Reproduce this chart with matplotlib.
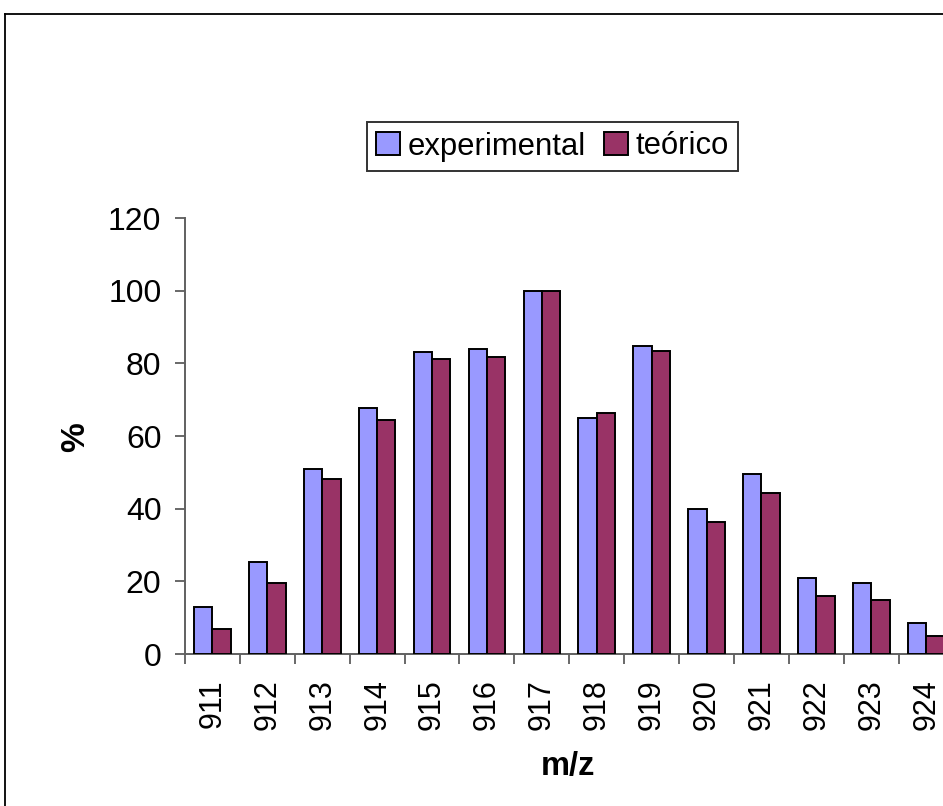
import matplotlib
matplotlib.use("Agg")
import matplotlib.pyplot as plt
import numpy as np
from matplotlib.lines import Line2D
from matplotlib.patches import Patch

plt.rcParams['font.family'] = ['Liberation Sans', 'DejaVu Sans']

categories = ['911', '912', '913', '914', '915', '916', '917',
              '918', '919', '920', '921', '922', '923', '924']
experimental = [13.0, 25.4, 51.0, 67.6, 83.0, 83.9, 100.0,
                65.0, 84.8, 39.9, 49.6, 20.9, 19.6, 8.6]
teorico = [6.8, 19.6, 48.3, 64.5, 81.2, 81.7, 100.0,
           66.2, 83.5, 36.3, 44.3, 16.0, 14.8, 5.0]
series_names = ['experimental', 'teórico']
colors = ['#9999FF', '#993366']
yticks = [0, 20, 40, 60, 80, 100, 120]

W, H = 943, 806
fig = plt.figure(figsize=(W / 100, H / 100), dpi=100)
ax = fig.add_axes([185 / W, 1 - 654 / H, (953.6 - 185) / W, (654 - 218) / H])

x = np.arange(len(categories))
bw = 1 / 3
ax.bar(x - bw / 2, experimental, bw, color=colors[0], edgecolor='black', linewidth=1.4, zorder=3)
ax.bar(x + bw / 2, teorico, bw, color=colors[1], edgecolor='black', linewidth=1.4, zorder=3)

ax.set_xlim(-0.5, len(categories) - 0.5)
ax.set_ylim(0, 120)
ax.set_yticks(yticks)
ax.set_yticklabels([str(v) for v in yticks], fontsize=23)

ax.set_xticks(x)
ax.set_xticklabels(categories, rotation=90, fontsize=22)
ax.tick_params(axis='x', which='major', length=0, pad=18)
ax.set_xticks(np.arange(-0.5, len(categories), 1), minor=True)
ax.tick_params(axis='x', which='minor', length=7, width=1.1, color='#404040', direction='out')
ax.tick_params(axis='y', length=7, width=1.1, color='#404040', direction='out', pad=10)

for s in ['top', 'right']:
    ax.spines[s].set_visible(False)
for s in ['left', 'bottom']:
    ax.spines[s].set_color('#606060')
    ax.spines[s].set_linewidth(1.4)

fig.text(76 / W, 1 - 437 / H, '%', rotation=90, fontsize=24, fontweight='bold',
         ha='center', va='center')
fig.text(568 / W, 1 - 766 / H, 'm/z', fontsize=23.5, fontweight='bold',
         ha='center', va='center')

handles = [Patch(facecolor=colors[0], edgecolor='black', linewidth=1.4),
           Patch(facecolor=colors[1], edgecolor='black', linewidth=1.4)]
leg = fig.legend(handles, series_names, loc='center', bbox_to_anchor=(552.5 / W, 1 - 146.5 / H),
                 ncol=2, fontsize=22.3, frameon=True, fancybox=False, shadow=False,
                 handlelength=0.75, handleheight=0.75, handletextpad=0.25,
                 columnspacing=0.6, borderpad=0.3, borderaxespad=0)
leg.get_frame().set_edgecolor('black')
leg.get_frame().set_linewidth(1.4)

# figure border (chart area), cut off at right and bottom
fig.add_artist(Line2D([5 / W, 5 / W], [1 - 14 / H, -0.01], transform=fig.transFigure,
                      color='black', linewidth=1.3))
fig.add_artist(Line2D([5 / W, 1.01], [1 - 14 / H, 1 - 14 / H], transform=fig.transFigure,
                      color='black', linewidth=1.3))

fig.savefig('out.png', dpi=100)
